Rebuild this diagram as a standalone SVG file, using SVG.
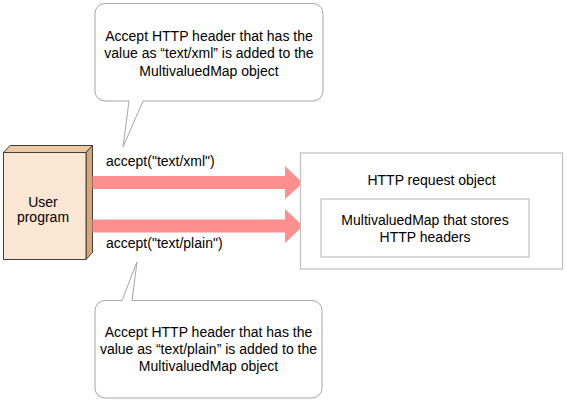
<svg xmlns="http://www.w3.org/2000/svg" width="567" height="401" viewBox="0 0 567 401">
<style>
text{font-family:"Liberation Sans",Arial,sans-serif;font-size:14px;fill:#000}
.c{text-anchor:middle}
.callout{fill:#fff;stroke:#a6a6a6;stroke-width:1}
.box{fill:#fff;stroke:#bfbfbf;stroke-width:1.2}
.arrow{fill:#fd8f8f}
.edge{stroke:#404040;stroke-width:1;stroke-linejoin:round}
</style>
<rect width="567" height="401" fill="#fff"/>
<g id="user-program">
<polygon class="edge" points="3.5,152.5 10,145.5 92.5,145.5 86,152.5" fill="#eec8a0"/>
<polygon class="edge" points="86,152.5 92.5,145.5 92.5,252.5 86,259.5" fill="#d9a672"/>
<rect class="edge" x="3.5" y="152.5" width="82.5" height="107" fill="#fce6d4"/>
<text class="c" x="43" y="206.5">User</text>
<text class="c" x="43" y="221.5">program</text>
</g>
<g id="connectors">
<polygon class="arrow" points="92.5,176 285,176 285,166 303,183 285,199 285,189 92.5,189"/>
<polygon class="arrow" points="92.5,219.5 285,219.5 285,209 303,226 285,243 285,232.5 92.5,232.5"/>
<text x="106" y="166">accept("text/xml")</text>
<text x="106" y="248">accept("text/plain")</text>
</g>
<g id="http-request">
<rect class="box" x="300.5" y="153" width="262" height="116"/>
<text class="c" x="431.5" y="184.5">HTTP request object</text>
</g>
<g id="multivaluedmap">
<rect class="box" x="321" y="199" width="208" height="58"/>
<text class="c" x="425" y="225">MultivaluedMap that stores</text>
<text class="c" x="425" y="241.5">HTTP headers</text>
</g>
<g id="callout-top">
<path class="callout" d="M105,3.5 H313 A10,10 0 0 1 323,13.5 V91 A10,10 0 0 1 313,101 H143 L123,147 L129,101 H105 A10,10 0 0 1 95,91 V13.5 A10,10 0 0 1 105,3.5 Z"/>
<text class="c" x="209" y="40.5">Accept HTTP header that has the</text>
<text class="c" x="209" y="58">value as “text/xml” is added to the</text>
<text class="c" x="209" y="75.5">MultivaluedMap object</text>
</g>
<g id="callout-bottom">
<path class="callout" d="M105,300.5 H122 L137,262 L132,300.5 H312 A10,10 0 0 1 322,310.5 V388 A10,10 0 0 1 312,398 H105 A10,10 0 0 1 95,388 V310.5 A10,10 0 0 1 105,300.5 Z"/>
<text class="c" x="208.5" y="337">Accept HTTP header that has the</text>
<text class="c" x="208.5" y="354">value as “text/plain” is added to the</text>
<text class="c" x="208.5" y="371">MultivaluedMap object</text>
</g>
</svg>
